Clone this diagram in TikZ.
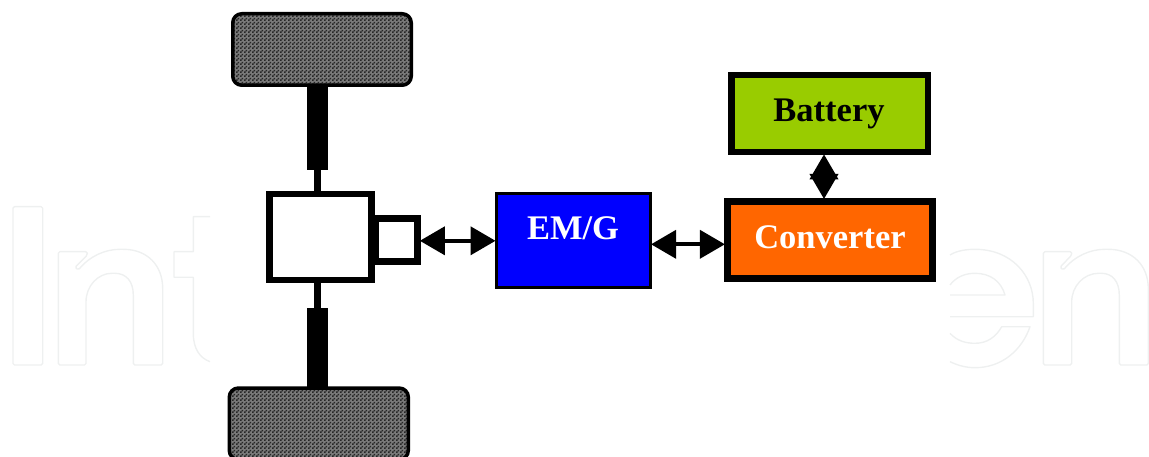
\documentclass[tikz,border=0pt]{standalone}
\usepackage{fontspec}
\setmainfont{Liberation Serif}
\usetikzlibrary{arrows.meta,calc,patterns}
\definecolor{wm}{HTML}{EEF0F0}
\definecolor{batgreen}{HTML}{99CC00}
\definecolor{emblue}{HTML}{0000FF}
\definecolor{convorange}{HTML}{FF6600}
\pgfdeclarepatternformonly{chk}{\pgfqpoint{0pt}{0pt}}{\pgfqpoint{4pt}{4pt}}{\pgfqpoint{4pt}{4pt}}{%
  \pgfpathrectangle{\pgfqpoint{0pt}{0pt}}{\pgfqpoint{2pt}{2pt}}%
  \pgfpathrectangle{\pgfqpoint{2pt}{2pt}}{\pgfqpoint{2pt}{2pt}}%
  \pgfusepath{fill}}
\tikzset{
  wmline/.style={draw=wm,line width=1.4pt,line join=round},
  wheelbox/.style={draw=black,line width=3.5pt,rounded corners=9pt,inner sep=0pt,
    preaction={fill=black!52},pattern=chk,pattern color=black!85},
  shaftbox/.style={fill=black,inner sep=0pt,outer sep=0pt,minimum width=21pt},
  axle/.style={line width=7pt,draw=black},
  thickbox/.style={draw=black,line width=6.7pt,inner sep=0pt},
  thinbox/.style={draw=black,line width=3pt,inner sep=0pt},
  caption/.style={font=\bfseries\fontsize{34.5pt}{36pt}\selectfont,anchor=base,inner sep=0pt},
  biarrow/.style={draw=black,line width=3.8pt,{Triangle[length=25pt,width=28pt]}-{Triangle[length=25pt,width=28pt]},shorten >=-1pt,shorten <=-1pt}
}
\begin{document}
\begin{tikzpicture}[x=1pt,y=-1pt]
\clip (0,0) rectangle (1149,457);
% faint background lettering
\draw[wmline,rounded corners=1.5pt] (13,206.7) rectangle (42.7,365);
\draw[wmline,rounded corners=1.5pt] (58.3,251.7) -- (87.3,251.7) -- (87.3,255) -- (75,267.3) -- (78.3,270) .. controls (90,256) and (105,249.3) .. (121.7,249.3) .. controls (148,249.3) and (162.7,266) .. (162.7,290) -- (162.7,365) -- (133.3,365) -- (133.3,296.7) .. controls (133.3,281) and (126,273.3) .. (113.3,273.3) .. controls (98,273.3) and (86,286) .. (86,303.3) -- (86,365) -- (58.3,365) -- cycle;
\draw[wmline] (210,216.7) -- (193.3,216.7) -- (193.3,251.7) -- (174,251.7) -- (174,277.3) -- (193.3,277.3) -- (193.3,333.3) .. controls (193.3,349) and (200,358) .. (210,361.7);
\draw[wmline] (950,255) .. controls (957,250.5) and (967,249.3) .. (975,249.3) .. controls (1012,249.3) and (1033.3,276) .. (1033.3,303.3) -- (1033.3,316.7) -- (950,316.7);
\draw[wmline] (950,295) -- (1005,295) .. controls (1001,281) and (990,273.3) .. (975,273.3) .. controls (965,273.3) and (956,277) .. (950,285);
\draw[wmline] (950,333.3) .. controls (957,341) and (966,343.3) .. (975,343.3) .. controls (987,343.3) and (996,337) .. (1001.7,326.7) -- (1030,326.7) .. controls (1022,350) and (1002,367.7) .. (975,367.7) .. controls (965,367.7) and (957,365) .. (950,361.7);
\draw[wmline,rounded corners=1.5pt] (1043.3,251.7) -- (1071.7,251.7) -- (1071.7,255) -- (1060,267.3) -- (1063.3,270) .. controls (1075,256) and (1090,249.3) .. (1106.7,249.3) .. controls (1133,249.3) and (1148.3,266) .. (1148.3,290) -- (1148.3,365) -- (1119.3,365) -- (1119.3,296.7) .. controls (1119.3,281) and (1112,273.3) .. (1100,273.3) .. controls (1084,273.3) and (1071.7,286) .. (1071.7,303.3) -- (1071.7,365) -- (1043.3,365) -- cycle;
% wheels and shafts
\node[shaftbox,minimum height=84pt] (shaftT) at (317.8,128.5) {};
\node[shaftbox,minimum height=80pt] (shaftB) at (317.8,348) {};
\node[wheelbox,minimum width=178.5pt,minimum height=71.5pt] (wheelT) at (322,49.5) {};
\node[wheelbox,minimum width=179pt,minimum height=71.5pt] (wheelB) at (318.8,423.8) {};
% differential housing
\draw[axle] (shaftT.south) -- (shaftT.south |- 0,194);
\draw[axle] (shaftB.north) -- (shaftB.north |- 0,280);
\node[thickbox,fill=white,minimum width=42pt,minimum height=42.7pt] (stub) at (396.5,240) {};
\node[thickbox,fill=white,minimum width=102.5pt,minimum height=86pt] (diff) at (320.5,237) {};
% electrical blocks
\node[thinbox,fill=emblue,minimum width=154.5pt,minimum height=94pt] (em) at (573.3,240.8) {};
\node[thickbox,fill=convorange,minimum width=205.5pt,minimum height=77pt] (conv) at (830,239.85) {};
\node[thickbox,fill=batgreen,minimum width=196.7pt,minimum height=77pt] (bat) at (829.7,113.5) {};
\node[caption,text=white] (emtext) at (573,239.3) {EM/G};
\node[caption,text=white] (convtext) at (830,248.3) {Converter};
\node[caption,text=black] (battext) at (829,121.7) {Battery};
% connectors
\draw[biarrow] (stub.east |- em.west) -- (em.west);
\draw[biarrow] ($(em.east)+(0,3.5)$) -- ($(conv.west)+(0,4.45)$);
\draw[biarrow] ($(bat.south)+(-5.7,0)$) -- ($(conv.north)+(-6,0)$);
\end{tikzpicture}
\end{document}
